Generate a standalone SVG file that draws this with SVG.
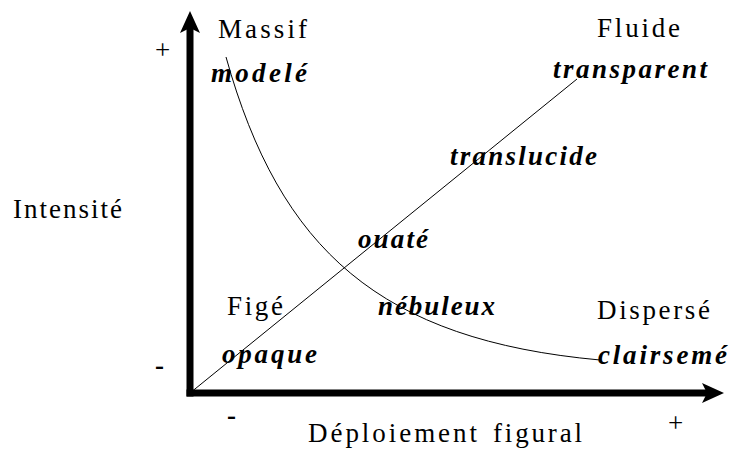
<svg xmlns="http://www.w3.org/2000/svg" width="732" height="452" viewBox="0 0 732 452" font-family="'Liberation Serif', 'Times New Roman', Times, serif" font-size="27">
  <style>
    .it { font-style: italic; font-weight: bold; }
    .sign { font-weight: bold; }
    .axis { stroke: #000; stroke-width: 7; fill: none; }
    .thin { stroke: #000; stroke-width: 1; fill: none; }
  </style>
  <defs>
    <marker id="arrow" markerUnits="userSpaceOnUse" markerWidth="22" markerHeight="20" viewBox="0 0 22 20" refX="5" refY="10" orient="auto">
      <path d="M0,0 L22,10 L0,20 L5,10 Z" fill="#000"/>
    </marker>
  </defs>
  <rect width="732" height="452" fill="#fff"/>

  <g id="connectors">
    <line class="thin" x1="190" y1="393" x2="577" y2="79"/>
    <path class="thin" d="M226,57 C280,250 380,340 600,360"/>
    <line id="axis-y" class="axis" x1="190" y1="396.5" x2="190" y2="28" marker-end="url(#arrow)"/>
    <line id="axis-x" class="axis" x1="186.5" y1="393" x2="707" y2="393" marker-end="url(#arrow)"/>
  </g>

  <g id="axis-labels">
    <text x="13" y="218" textLength="109" lengthAdjust="spacing">Intensité</text>
    <text x="155" y="59">+</text>
    <text class="sign" x="155" y="374">-</text>
    <text class="sign" x="227" y="423.5">-</text>
    <text x="668" y="432">+</text>
    <text y="442"><tspan x="308" textLength="169" lengthAdjust="spacing">Déploiement</tspan><tspan x="493" textLength="89" lengthAdjust="spacing">figural</tspan></text>
  </g>

  <g id="massif">
    <text x="218" y="38" textLength="89" lengthAdjust="spacing">Massif</text>
    <text class="it" x="211" y="82" textLength="96" lengthAdjust="spacing">modelé</text>
  </g>
  <g id="fluide">
    <text x="597" y="37" textLength="83" lengthAdjust="spacing">Fluide</text>
    <text class="it" x="553" y="78" textLength="154" lengthAdjust="spacing">transparent</text>
  </g>
  <g id="translucide">
    <text class="it" x="450" y="165" textLength="147" lengthAdjust="spacing">translucide</text>
  </g>
  <g id="ouate">
    <text class="it" x="358" y="248" textLength="70" lengthAdjust="spacing">ouaté</text>
  </g>
  <g id="fige">
    <text x="227" y="315" textLength="56" lengthAdjust="spacing">Figé</text>
    <text class="it" x="222" y="363" textLength="95" lengthAdjust="spacing">opaque</text>
  </g>
  <g id="nebuleux">
    <text class="it" x="378" y="315" textLength="117" lengthAdjust="spacing">nébuleux</text>
  </g>
  <g id="disperse">
    <text x="597" y="319" textLength="113" lengthAdjust="spacing">Dispersé</text>
    <text class="it" x="598" y="364" textLength="129" lengthAdjust="spacing">clairsemé</text>
  </g>
</svg>
